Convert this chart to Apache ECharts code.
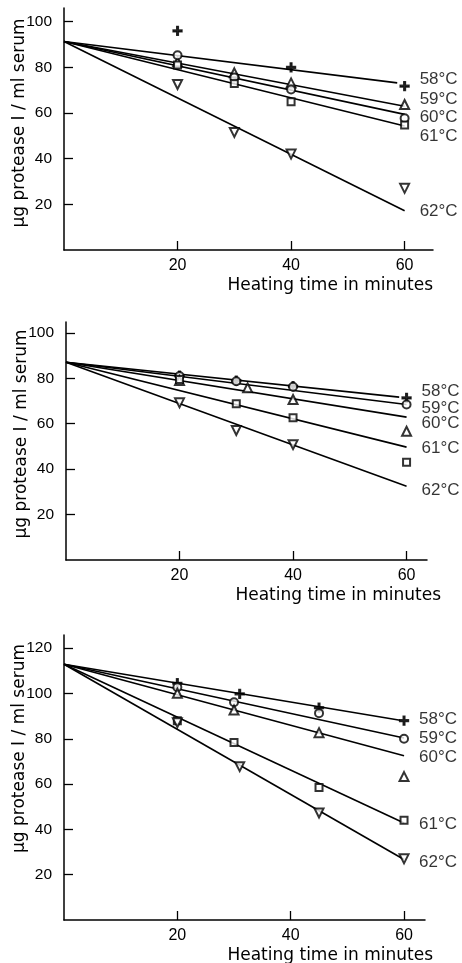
<!DOCTYPE html>
<html><head><meta charset="utf-8">
<script src="https://cdn.jsdelivr.net/npm/echarts@6/dist/echarts.min.js"></script>
<style>html,body{margin:0;padding:0;background:#fff}#c{width:462px;height:963px}</style>
</head><body><div id="c"></div>
<script>
// ---- data ----
const temps = ['58°C', '59°C', '60°C', '61°C', '62°C'];
const xTicks = [20, 40, 60];
const yTicksA = [20, 40, 60, 80, 100];
const yTicksB = [20, 40, 60, 80, 100];
const yTicksC = [20, 40, 60, 80, 100, 120];

// Panel A (top): measured points
const a_x = [20, 30, 40, 60];
const a58 = [96, null, 80, 71.8];
const a59 = [82.4, 77.6, 73.2, 63.7];
const a60 = [85.3, 75.6, 70.3, 57.7];
const a61 = [81, 72.9, 64.9, 54.7];
const a62 = [72.5, 51.5, 42, 27];
// Panel A fitted lines: [startX, startY, endX, endY]
const aFit58 = [0, 91.3, 58.7, 73.2];
const aFit59 = [0, 91.3, 60, 63.0];
const aFit60 = [0, 91.3, 60, 59.4];
const aFit61 = [0, 91.3, 60, 54.3];
const aFit62 = [0, 91.3, 60, 17.2];
const aLabelY = [74.8, 66.1, 58.2, 49.9, 17.1];

// Panel B (middle)
const b_x = [20, 30, 40, 60];
const b_x60 = [20, 32, 40, 60];
const b58 = [81.2, 79, 76.5, 71.4];
const b59 = [81, 78.7, 76.3, 68.5];
const b60 = [79, 75.8, 70.7, 56.7];
const b61 = [79.5, 68.8, 62.6, 43];
const b62 = [69.2, 57, 50.8, null];
const bFit58 = [0, 87.1, 58.7, 71.7];
const bFit59 = [0, 87.1, 60, 68.5];
const bFit60 = [0, 87.1, 60, 62.9];
const bFit61 = [0, 87.1, 60, 49.7];
const bFit62 = [0, 87.1, 60, 32.5];
const bLabelY = [74.3, 67.0, 60.4, 49.1, 30.7];

// Panel C (bottom)
const c_x = [20, 30, 45, 60];
const c_x31 = [20, 31, 45, 60];
const c58 = [104.5, 99.8, 93.7, 88];
const c59 = [102.7, 96.1, 91.3, 80];
const c60 = [100.1, 92.7, 82.7, 63.3];
const c61 = [88, 78.3, 58.5, 44];
const c62 = [87.1, 67.7, 47.2, 27];
const cFit58 = [0, 112.9, 59.3, 88.2];
const cFit59 = [0, 112.9, 60, 80.3];
const cFit60 = [0, 112.9, 60, 72.5];
const cFit61 = [0, 112.9, 60, 42.8];
const cFit62 = [0, 112.9, 60, 26.7];
const cLabelY = [88.6, 80.3, 71.7, 42.1, 25.6];

// ---- styling ----
const INK = '#000';
const PLUS = 'path://M4,0H6V4H10V6H6V10H4V6H0V4H4Z';
const symbols = [
  {symbol: PLUS, size: 9, rotate: 0},
  {symbol: 'emptyTriangle', size: 9, rotate: 0},
  {symbol: 'emptyCircle', size: 8, rotate: 0},
  {symbol: 'emptyRect', size: 7, rotate: 0},
  {symbol: 'emptyTriangle', size: 9, rotate: 180}
];
// panel A: 58 plus, 59 triangle, 60 circle, 61 square, 62 inverted triangle
// panels B, C: 58 plus, 59 circle, 60 triangle, 61 square, 62 inverted triangle
const symA = [0, 1, 2, 3, 4];
const symBC = [0, 2, 1, 3, 4];

const pts = (xs, ys) => xs.map((x, i) => [x, ys[i]]).filter(p => p[1] !== null);

const series = [];
function addPanel(idx, fits, measured, symMap, labelY) {
  fits.forEach(f => {
    series.push({
      type: 'line', xAxisIndex: idx, yAxisIndex: idx, data: [[f[0], f[1]], [f[2], f[3]]],
      symbol: 'none', lineStyle: {color: INK, width: 1.6}, silent: true, z: 2
    });
  });
  measured.forEach((m, k) => {
    const s = symbols[symMap[k]];
    series.push({
      type: 'scatter', xAxisIndex: idx, yAxisIndex: idx, data: pts(m[0], m[1]),
      symbol: s.symbol, symbolSize: s.size, symbolRotate: s.rotate,
      itemStyle: {color: INK, borderColor: INK, borderWidth: 1.3}, silent: true, z: 3
    });
  });
  series.push({
    type: 'scatter', xAxisIndex: idx, yAxisIndex: idx, symbolSize: 0.1,
    itemStyle: {color: 'transparent'},
    data: temps.map((t, k) => ({name: t, value: [60, labelY[k]]})),
    label: {show: true, position: 'right', distance: 15, formatter: '{b}',
      color: INK, fontFamily: 'Liberation Sans', fontSize: 17},
    silent: true, z: 4
  });
}
addPanel(0, [aFit58, aFit59, aFit60, aFit61, aFit62],
  [[a_x, a58], [a_x, a59], [a_x, a60], [a_x, a61], [a_x, a62]], symA, aLabelY);
addPanel(1, [bFit58, bFit59, bFit60, bFit61, bFit62],
  [[b_x, b58], [b_x, b59], [b_x60, b60], [b_x, b61], [b_x, b62]], symBC, bLabelY);
addPanel(2, [cFit58, cFit59, cFit60, cFit61, cFit62],
  [[c_x31, c58], [c_x, c59], [c_x, c60], [c_x, c61], [c_x31, c62]], symBC, cLabelY);

function xAxis(idx, max, gap) {
  return {
    type: 'value', gridIndex: idx, min: 0, max: max, interval: 20,
    axisLine: {lineStyle: {color: INK, width: 1.5}},
    axisTick: {inside: true, length: 9, lineStyle: {color: INK, width: 1.3}, customValues: xTicks},
    axisLabel: {customValues: xTicks, color: INK, fontFamily: 'Liberation Sans', fontSize: 16, margin: 8,
      formatter: v => xTicks.includes(v) ? String(v) : ''},
    splitLine: {show: false},
    name: 'Heating time in minutes', nameLocation: 'end', nameGap: gap, nameMoveOverlap: false,
    nameTextStyle: {color: INK, fontFamily: 'DejaVu Sans', fontSize: 17, align: 'right',
      verticalAlign: 'top', padding: [27, 0, 0, 0]}
  };
}
function yAxis(idx, max, ticks, shift) {
  return {
    type: 'value', gridIndex: idx, min: 0, max: max, interval: 20,
    axisLine: {lineStyle: {color: INK, width: 1.5}},
    axisTick: {inside: true, length: 9, lineStyle: {color: INK, width: 1.3}, customValues: ticks},
    axisLabel: {customValues: ticks, color: INK, fontFamily: 'Liberation Sans', fontSize: 15.5, margin: 12,
      formatter: v => ticks.includes(v) ? String(v) : ''},
    splitLine: {show: false},
    name: 'µg protease I / ml serum', nameLocation: 'middle', nameGap: 36, nameMoveOverlap: false,
    nameTextStyle: {color: INK, fontFamily: 'DejaVu Sans', fontSize: 17, padding: [0, 0, 0, shift]}
  };
}

const chart = echarts.init(document.getElementById('c'), null, {renderer: 'canvas'});
chart.setOption({
  animation: false,
  backgroundColor: '#fff',
  grid: [
    {left: 64, right: 29, top: 8, bottom: 713, outerBoundsMode: 'none', containLabel: false},
    {left: 66, right: 35, top: 322, bottom: 403, outerBoundsMode: 'none', containLabel: false},
    {left: 64, right: 37, top: 635, bottom: 43, outerBoundsMode: 'none', containLabel: false}
  ],
  xAxis: [xAxis(0, 65, 0), xAxis(1, 63.6, 14), xAxis(2, 63.7, 8)],
  yAxis: [yAxis(0, 106, yTicksA, 12), yAxis(1, 104.8, yTicksB, 14), yAxis(2, 125.8, yTicksC, 58)],
  series: series
});
</script></body></html>
